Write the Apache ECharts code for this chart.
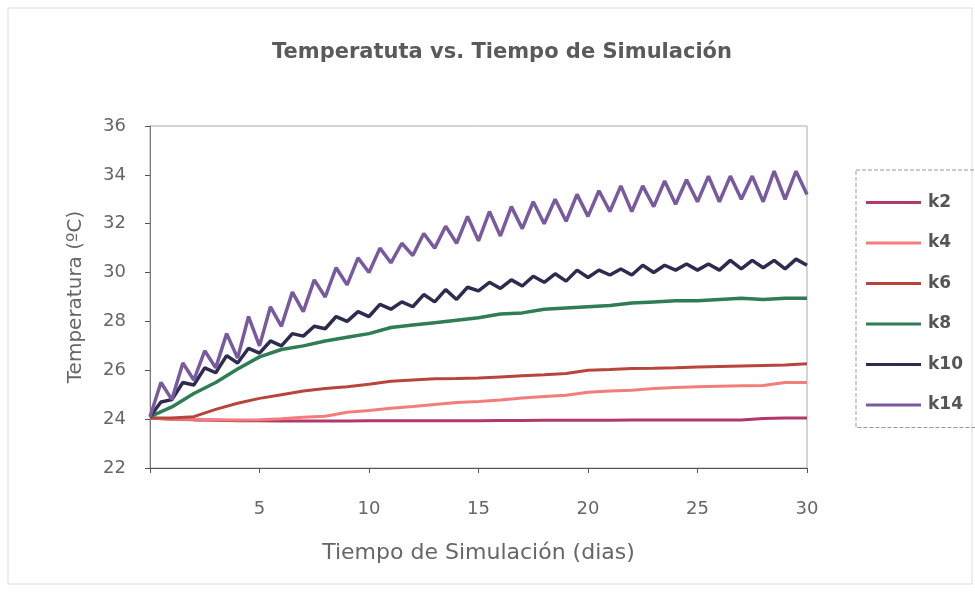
<!DOCTYPE html>
<html><head><meta charset="utf-8">
<script src="https://cdn.jsdelivr.net/npm/echarts@6/dist/echarts.min.js"></script>
<style>html,body{margin:0;padding:0;background:#fff}#c{width:975px;height:593px}</style>
</head><body><div id="c"></div>
<script>
const halfDays = [0,0.5,1,1.5,2,2.5,3,3.5,4,4.5,5,5.5,6,6.5,7,7.5,8,8.5,9,9.5,10,10.5,11,11.5,12,12.5,13,13.5,14,14.5,15,15.5,16,16.5,17,17.5,18,18.5,19,19.5,20,20.5,21,21.5,22,22.5,23,23.5,24,24.5,25,25.5,26,26.5,27,27.5,28,28.5,29,29.5,30];
const days = [0,1,2,3,4,5,6,7,8,9,10,11,12,13,14,15,16,17,18,19,20,21,22,23,24,25,26,27,28,29,30];

const k14 = [24.1,25.5,24.8,26.3,25.6,26.8,26.1,27.5,26.5,28.2,27.0,28.6,27.8,29.2,28.4,29.7,29.0,30.2,29.5,30.6,30.0,31.0,30.4,31.2,30.7,31.6,31.0,31.9,31.2,32.3,31.3,32.5,31.5,32.7,31.8,32.9,32.0,33.0,32.1,33.2,32.3,33.35,32.5,33.55,32.5,33.55,32.7,33.75,32.8,33.8,32.9,33.95,32.9,33.95,33.0,33.95,32.9,34.15,33.0,34.15,33.2];
const k10 = [24.1,24.7,24.8,25.5,25.4,26.1,25.9,26.6,26.3,26.9,26.7,27.2,27.0,27.5,27.4,27.8,27.7,28.2,28.0,28.4,28.2,28.7,28.5,28.8,28.6,29.1,28.8,29.3,28.9,29.4,29.25,29.6,29.35,29.7,29.45,29.85,29.6,29.95,29.65,30.1,29.8,30.1,29.9,30.15,29.9,30.3,30.0,30.3,30.1,30.35,30.1,30.35,30.1,30.5,30.15,30.5,30.2,30.5,30.15,30.55,30.3];
const k8 = [24.1,24.5,25.05,25.5,26.05,26.55,26.85,27.0,27.2,27.35,27.5,27.75,27.85,27.95,28.05,28.15,28.3,28.35,28.5,28.55,28.6,28.65,28.75,28.8,28.85,28.85,28.9,28.95,28.9,28.95,28.95];
const k6 = [24.05,24.05,24.1,24.4,24.65,24.85,25.0,25.15,25.25,25.33,25.43,25.55,25.6,25.65,25.66,25.68,25.73,25.78,25.82,25.87,26.0,26.03,26.07,26.08,26.1,26.13,26.16,26.18,26.2,26.22,26.27];
const k4 = [24.05,24.0,24.0,23.98,23.96,23.98,24.02,24.08,24.12,24.28,24.35,24.45,24.52,24.6,24.68,24.72,24.78,24.87,24.93,24.98,25.1,25.15,25.18,25.25,25.3,25.33,25.35,25.37,25.38,25.5,25.5];
const k2 = [24.05,24.0,23.97,23.95,23.93,23.93,23.92,23.92,23.92,23.92,23.93,23.93,23.93,23.93,23.93,23.93,23.94,23.94,23.95,23.95,23.95,23.95,23.96,23.96,23.96,23.96,23.96,23.96,24.03,24.05,24.05];

const xTicks = ['', '5', '10', '15', '20', '25', '30'];
const yTicks = ['22','24','26','28','30','32','34','36'];

const pair = (xs, ys) => xs.map((x, i) => [x, ys[i]]);
const txt = '#666';
const font = 'DejaVu Sans';

function s(name, xs, ys, color, w) {
  return { name, type: 'line', data: pair(xs, ys), symbol: 'none', showSymbol: false,
    lineStyle: { color, width: w }, itemStyle: { color }, animation: false };
}

const chart = echarts.init(document.getElementById('c'));
chart.setOption({
  animation: false,
  backgroundColor: '#fff',
  textStyle: { fontFamily: font },
  graphic: [{ type: 'rect', shape: { x: 8, y: 8, width: 964, height: 576 },
    style: { fill: 'none', stroke: '#dcdcdc', lineWidth: 1 } }],
  title: { text: 'Temperatuta vs. Tiempo de Simulación', left: 497, textAlign: 'center', top: 37,
    textStyle: { fontFamily: font, fontSize: 21, fontWeight: 'bold', color: '#5a5a5a' } },
  grid: { left: 150, right: 168, top: 126, bottom: 125, show: true, borderColor: '#aaa', borderWidth: 1, backgroundColor: 'transparent' },
  legend: { orient: 'vertical', left: 856, top: 170, icon: 'rect', itemWidth: 55, itemHeight: 3, itemGap: 23.5,
    padding: [24, 40, 14, 10], borderColor: '#999', borderWidth: 1, borderType: 'dashed',
    textStyle: { fontFamily: font, fontSize: 17, fontWeight: 'bold', color: '#555', padding: [0,0,0,2] },
    data: ['k2','k4','k6','k8','k10','k14'] },
  xAxis: { type: 'value', min: 0, max: 30, interval: 5,
    name: 'Tiempo de Simulación (dias)', nameLocation: 'middle', nameGap: 74, nameMoveOverlap: false,
    nameTextStyle: { fontFamily: font, fontSize: 22, color: txt },
    axisLine: { lineStyle: { color: '#555' } }, axisTick: { show: true, inside: false, length: 5, lineStyle: { color: '#555' } },
    axisLabel: { color: txt, fontSize: 18, margin: 32, formatter: (v) => xTicks[Math.round(v / 5)] },
    splitLine: { show: false } },
  yAxis: { type: 'value', min: 22, max: 36, interval: 2,
    name: 'Temperatura (ºC)', nameLocation: 'middle', nameGap: 64, nameMoveOverlap: false,
    nameTextStyle: { fontFamily: font, fontSize: 20, color: txt },
    axisLine: { show: true, lineStyle: { color: '#778' } }, axisTick: { show: true, length: 5, lineStyle: { color: '#555' } },
    axisLabel: { color: txt, fontSize: 18, margin: 24, formatter: (v) => yTicks[Math.round((v - 22) / 2)] },
    splitLine: { show: false } },
  series: [
    s('k2', days, k2, '#b0386a', 3),
    s('k4', days, k4, '#f27d7a', 3),
    s('k6', days, k6, '#b8453c', 3),
    s('k8', days, k8, '#2f7d55', 3.5),
    s('k10', halfDays, k10, '#2c2c50', 3.5),
    s('k14', halfDays, k14, '#7a5a9e', 3.5)
  ]
});
</script></body></html>
